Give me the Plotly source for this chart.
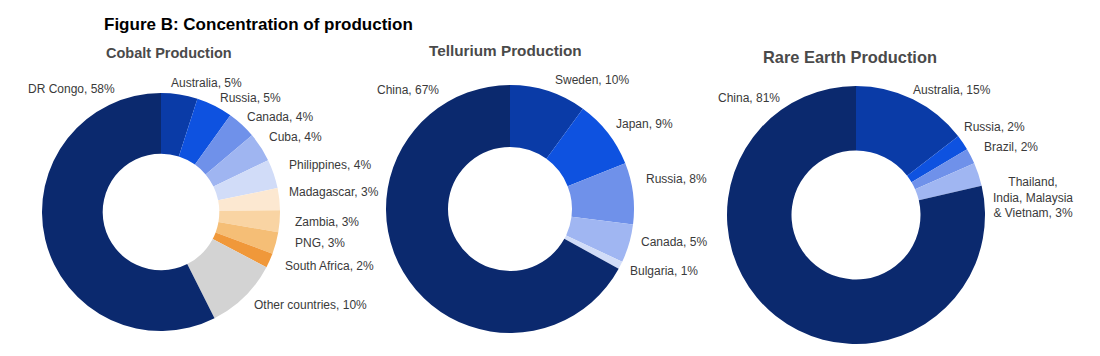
import plotly.graph_objects as go

# ---------------- data ----------------
cobalt_countries = ["Australia", "Russia", "Canada", "Cuba", "Philippines", "Madagascar",
                    "Zambia", "PNG", "South Africa", "Other countries", "DR Congo"]
cobalt_values = [5, 5, 4, 4, 4, 3, 3, 3, 2, 10, 58]

tellurium_countries = ["Sweden", "Japan", "Russia", "Canada", "Bulgaria", "China"]
tellurium_values = [10, 9, 8, 5, 1, 67]

rare_countries = ["Australia", "Russia", "Brazil", "Thailand, India, Malaysia & Vietnam", "China"]
rare_display = ["Australia", "Russia", "Brazil", "Thailand,<br>India, Malaysia<br>& Vietnam", "China"]
rare_values = [15, 2, 2, 3, 81]

titles = ["Cobalt Production", "Tellurium Production", "Rare Earth Production"]
main_title = "Figure B: Concentration of production"

# ---------------- styles ----------------
NAVY = "#0B296E"
cobalt_colors = ["#0A3BA7", "#0E52E0", "#6F91EA", "#9FB5F1", "#D1DCF8", "#FCE8D1",
                 "#F9D4A3", "#F5BE76", "#F0983A", "#D3D3D3", NAVY]
tellurium_colors = ["#0A3BA7", "#0E52E0", "#6F91EA", "#A0B6F2", "#D1DCF8", NAVY]
rare_colors = ["#0A3BA7", "#0E52E0", "#6F91EA", "#A0B6F2", NAVY]

# page body has an 8px margin: figure is sized to fit the window
OFF = 8
W, H = 1100 - OFF, 356 - OFF

def fx(x):
    return (x - OFF) / W

def fy(y):
    return 1 - (y - OFF) / H

def px_dom(x0, x1, y0, y1):
    return dict(x=[fx(x0), fx(x1)], y=[fy(y1), fy(y0)])

fig = go.Figure()
fig.add_trace(go.Pie(labels=cobalt_countries, values=cobalt_values, hole=0.49, sort=False,
                     direction="clockwise", rotation=0, textinfo="none",
                     marker=dict(colors=cobalt_colors, line=dict(width=0)),
                     domain=px_dom(42, 280, 93, 331), showlegend=False))
fig.add_trace(go.Pie(labels=tellurium_countries, values=tellurium_values, hole=0.5, sort=False,
                     direction="clockwise", rotation=0, textinfo="none",
                     marker=dict(colors=tellurium_colors, line=dict(width=0)),
                     domain=px_dom(386, 634, 85, 333), showlegend=False))
fig.add_trace(go.Pie(labels=rare_countries, values=rare_values, hole=0.5, sort=False,
                     direction="clockwise", rotation=0, textinfo="none",
                     marker=dict(colors=rare_colors, line=dict(width=0)),
                     domain=px_dom(727, 985, 86, 344), showlegend=False))

# label placement (pixel positions, anchor) -- layout only
cobalt_pos = [(169, 83, "left"), (218, 98, "left"), (245, 117, "left"), (267, 137, "left"),
              (287, 165, "left"), (287, 192, "left"), (293, 222, "left"), (293, 243, "left"),
              (283, 266, "left"), (252, 305, "left"), (117, 89, "right")]
tellurium_pos = [(553, 80, "left"), (614, 124, "left"), (644, 179, "left"), (639, 242, "left"),
                 (628, 271, "left"), (441, 90, "right")]
rare_pos = [(911, 90, "left"), (962, 127, "left"), (982, 147, "left"), (1033, 197, "center"),
            (782, 98, "right")]

LABEL_FONT = dict(family="Liberation Sans, Arial, sans-serif", size=12, color="#3a3a3a")
annotations = []

def add_labels(names, values, positions):
    for n, v, (x, y, anc) in zip(names, values, positions):
        annotations.append(dict(text=f"{n}, {v}%", x=fx(x), y=fy(y), xref="paper", yref="paper",
                                xanchor=anc, yanchor="middle", showarrow=False, align="center",
                                font=LABEL_FONT))

add_labels(cobalt_countries, cobalt_values, cobalt_pos)
add_labels(tellurium_countries, tellurium_values, tellurium_pos)
add_labels(rare_display, rare_values, rare_pos)

SUB_FONT = dict(family="Liberation Sans, Arial, sans-serif", color="#4a4a4a")
for t, x, y, s in zip(titles, [169, 505, 850], [53, 50, 57], [14.5, 15.3, 16.4]):
    annotations.append(dict(text=f"<b>{t}</b>", x=fx(x), y=fy(y), xref="paper", yref="paper",
                            xanchor="center", yanchor="middle", showarrow=False,
                            font=dict(size=s, **SUB_FONT)))

annotations.append(dict(text=f"<b>{main_title}</b>", x=fx(102), y=fy(25), xref="paper", yref="paper",
                        xanchor="left", yanchor="middle", showarrow=False,
                        font=dict(family="Liberation Sans, Arial, sans-serif", size=17, color="#000000")))

fig.update_layout(width=W, height=H, margin=dict(l=0, r=0, t=0, b=0),
                  paper_bgcolor="white", plot_bgcolor="white", annotations=annotations)

fig.write_html("out.html")
